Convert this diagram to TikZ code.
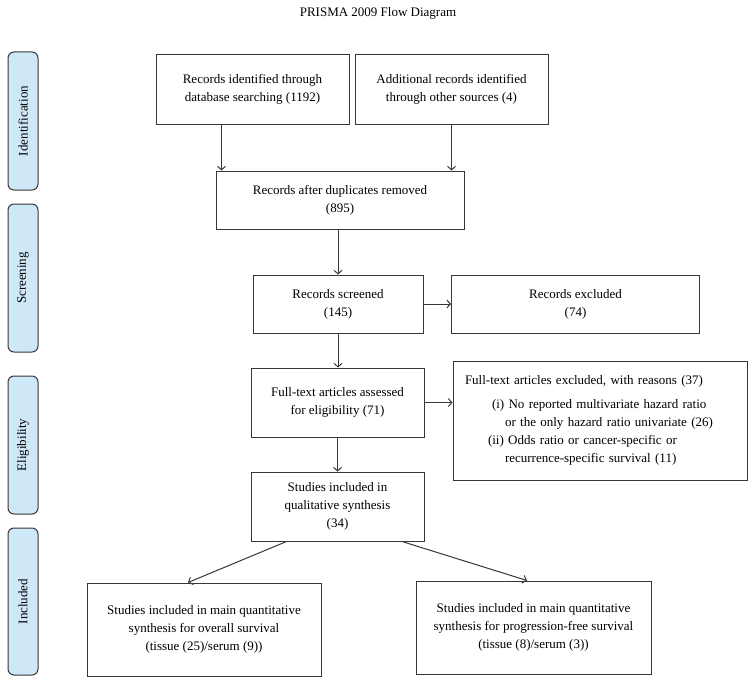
\documentclass[tikz,border=0pt]{standalone}
\usepackage{fontspec}
\setmainfont{Liberation Serif}
\usepackage{tikz}
\usetikzlibrary{shapes, arrows.meta}

\definecolor{stageblue}{RGB}{207,232,248}
\definecolor{edgegrey}{RGB}{55,55,55}

\begin{document}
\begin{tikzpicture}[x=1pt, y=-1pt, line width=1pt,
    font=\fontsize{13}{18}\selectfont,
    >={Straight Barb[length=3.5pt, width=8pt]},
    box/.style={draw=edgegrey, align=center, inner sep=0pt},
    stage/.style={draw=edgegrey, fill=stageblue, rounded corners=6pt, rotate=90,
        minimum height=30, inner sep=0pt},
    flow/.style={->, draw=edgegrey}]
            \useasboundingbox (0,0) rectangle (755,685);
            \node (title) at (378,13) {PRISMA 2009 Flow Diagram};
            % stages
            \node [stage, minimum width=138] (Ident) at (23,121) {Identification};
            \node [stage, minimum width=148] (Screen) at (23,278) {Screening};
            \node [stage, minimum width=138] (Elig) at (23,445) {Eligibility};
            \node [stage, minimum width=147] (Incl) at (23,601.5) {Included};
            % boxes
            \node [box, minimum width=193, minimum height=69] (Db) at (252.5,89.5)
                {Records identified through\\database searching (1192)};
            \node [box, minimum width=193, minimum height=69] (Other) at (451.5,89.5)
                {Additional records identified\\through other sources (4)};
            \node [box, minimum width=248, minimum height=58] (Dup) at (340,200)
                {Records after duplicates removed\\(895)};
            \node [box, minimum width=170, minimum height=58] (Screened) at (338,304)
                {Records screened\\(145)};
            \node [box, minimum width=248, minimum height=58] (Excl) at (575.5,304)
                {Records excluded\\(74)};
            \node [box, minimum width=173, minimum height=69] (Full) at (337.5,402.5)
                {Full-text articles assessed\\for eligibility (71)};
            \node [box, align=left, text width=270, inner xsep=12, minimum height=119] (Reasons) at (600,420.5)
                {Full-text articles excluded, with reasons (37)\\[6pt]
                 \hspace*{27pt}(i) No reported multivariate hazard ratio\\
                 \hspace*{40pt}or the only hazard ratio univariate (26)\\
                 \hspace*{23pt}(ii) Odds ratio or cancer-specific or\\
                 \hspace*{40pt}recurrence-specific survival (11)};
            \node [box, minimum width=173, minimum height=69] (Qual) at (337.5,506.5)
                {Studies included in\\qualitative synthesis\\(34)};
            \node [box, minimum width=234, minimum height=93] (Os) at (204,629.5)
                {Studies included in main quantitative\\synthesis for overall survival\\(tissue (25)/serum (9))};
            \node [box, minimum width=235, minimum height=93] (Pfs) at (533.5,627.5)
                {Studies included in main quantitative\\synthesis for progression-free survival\\(tissue (8)/serum (3))};
            % arrows
            \coordinate (DupL) at ([xshift=6pt]Dup.north west);
            \draw [flow] (Db.south -| DupL) -- (DupL);
            \draw [flow] (Other.south) -- (Other.south |- Dup.north);
            \draw [flow] (Screened.north |- Dup.south) -- (Screened.north);
            \draw [flow] (Screened.east) -- (Screened.east -| Excl.west);
            \draw [flow] (Screened.south) -- (Screened.south |- Full.north);
            \draw [flow] (Full.east) -- (Full.east -| Reasons.west);
            \draw [flow] (Full.south) -- (Qual.north);
            \draw [flow] ([xshift=-51pt]Qual.south) -- ([xshift=-16pt]Os.north);
            \draw [flow] ([xshift=64.5pt]Qual.south) -- ([xshift=-6.5pt]Pfs.north);
        \end{tikzpicture}
\end{document}
